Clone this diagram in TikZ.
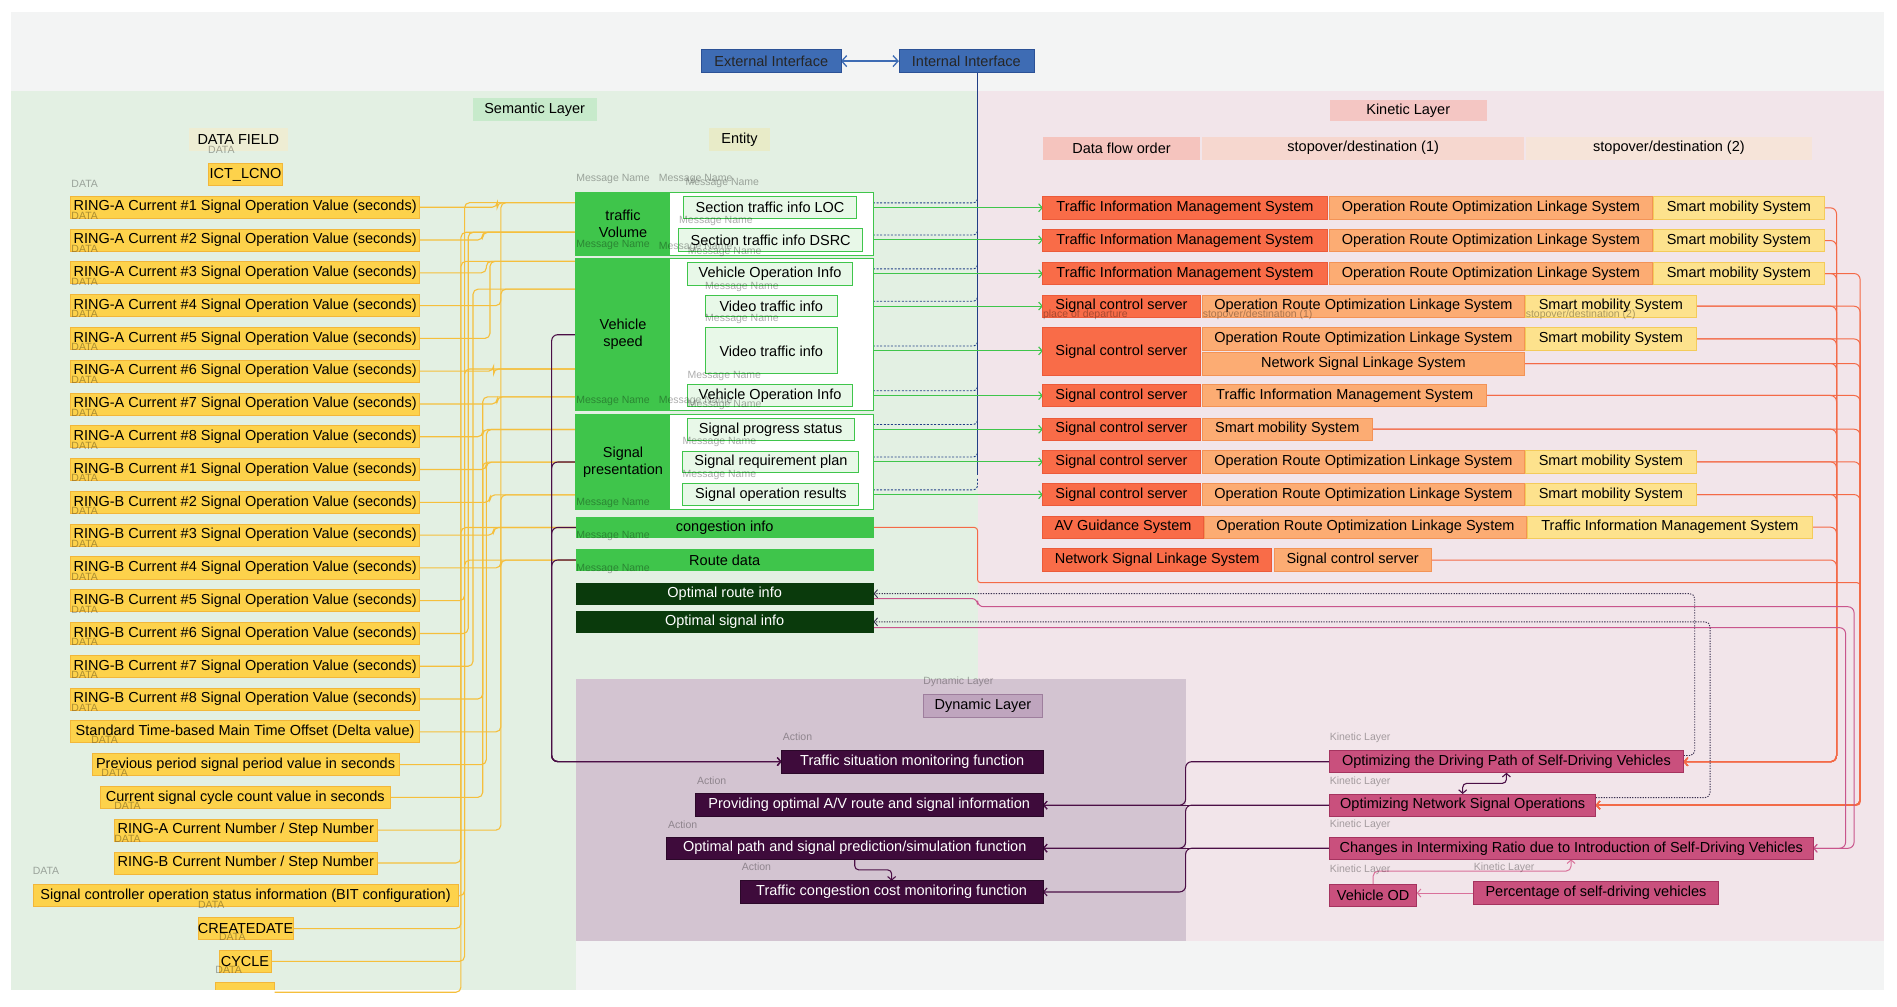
\documentclass[tikz,border=0pt]{standalone}
\usepackage{fontspec}
\setmainfont{Liberation Sans}
\usetikzlibrary{arrows.meta,calc}
\pgfdeclarelayer{back}
\pgfdeclarelayer{lines}
\pgfsetlayers{back,lines,main}
\newcommand\myfs{\fontsize{14.5}{17}\selectfont}
\newcommand\mysmall{\fontsize{10.5}{12}\selectfont}
\newcommand\mkbox[7]{\node[bx,#2,minimum width={((#5)-(#3))*1.2098pt},minimum height={((#6)-(#4))*1.2098pt}] (#1) at ({((#3)+(#5))/2},{((#4)+(#6))/2}) {#7};}
\newcommand\yrow[5]{\mkbox{#1}{ybox}{#2}{#4-9.1}{#3}{#4+9.1}{#5}}
\definecolor{cBgGray}{HTML}{F3F4F4}
\definecolor{cBgGreen}{HTML}{E3F0E3}
\definecolor{cBgPink}{HTML}{F2E5EA}
\definecolor{cBgDyn}{HTML}{D3C4D1}
\definecolor{cY}{HTML}{FDD24B}
\definecolor{cYd}{HTML}{F2B73A}
\definecolor{cYl}{HTML}{F5BF3C}
\definecolor{cG}{HTML}{3FC54B}
\definecolor{cMsg}{HTML}{E8F8E8}
\definecolor{cDG}{HTML}{0A3A0C}
\definecolor{cIf}{HTML}{3E6CB4}
\definecolor{cIfd}{HTML}{2B5196}
\definecolor{cBlue}{HTML}{213E86}
\definecolor{cK1}{HTML}{F96C48}
\definecolor{cK1d}{HTML}{EC5A3A}
\definecolor{cK2}{HTML}{FCAC73}
\definecolor{cK2d}{HTML}{F39356}
\definecolor{cK3}{HTML}{FDE28D}
\definecolor{cK3d}{HTML}{F4CB5A}
\definecolor{cKh1}{HTML}{F5C4BE}
\definecolor{cKh2}{HTML}{F6D7CF}
\definecolor{cKh3}{HTML}{F6E4D9}
\definecolor{cKl}{HTML}{F4C6C3}
\definecolor{cSem}{HTML}{C7EACB}
\definecolor{cDf}{HTML}{EEEDD3}
\definecolor{cEnt}{HTML}{E8EBC8}
\definecolor{cDyn}{HTML}{3E0B3B}
\definecolor{cDynL}{HTML}{BFA5BE}
\definecolor{cDynLd}{HTML}{9E7E9D}
\definecolor{cPk}{HTML}{C9507D}
\definecolor{cPkd}{HTML}{A5335F}
\definecolor{cPl}{HTML}{4B0F46}
\definecolor{cOr}{HTML}{F46A47}
\definecolor{cMg}{HTML}{C9558C}
\definecolor{cDot}{HTML}{3A3050}
\definecolor{cPkl}{HTML}{D9709A}
\begin{document}
\begin{tikzpicture}[x=1.2098pt,y=-1.2098pt,
 bx/.style={inner sep=0pt,outer sep=0pt,font=\myfs,anchor=center},
 ybox/.style={fill=cY,draw=cYd,line width=0.8pt},
 ifbox/.style={fill=cIf,draw=cIfd,line width=0.6pt,text=black!85},
 semlbl/.style={fill=cSem},
 kinlbl/.style={fill=cKl},
 dflbl/.style={fill=cDf},
 entlbl/.style={fill=cEnt},
 kh1/.style={fill=cKh1}, kh2/.style={fill=cKh2}, kh3/.style={fill=cKh3},
 grp/.style={fill=white,draw=cG,line width=1pt},
 grpl/.style={fill=cG,align=center},
 msg/.style={fill=cMsg,draw=cG,line width=1pt},
 gfull/.style={fill=cG},
 dgfull/.style={fill=cDG,text=white},
 ka/.style={fill=cK1,draw=cK1d,line width=0.8pt},
 kb/.style={fill=cK2,draw=cK2d,line width=0.8pt},
 kc/.style={fill=cK3,draw=cK3d,line width=0.8pt},
 dyn/.style={fill=cDyn,draw=cDyn!70!black,line width=0.6pt,text=white},
 dynl/.style={fill=cDynL,draw=cDynLd,line width=0.8pt},
 pk/.style={fill=cPk,draw=cPkd,line width=1pt},
 lbl/.style={inner sep=0pt,font=\mysmall,text=black,text opacity=0.32},
 arr/.style={-{Straight Barb[length=3.5pt,width=8pt]}},
 yline/.style={draw=cYl,line width=1.1pt,rounded corners=5pt},
 garr/.style={draw=cG,line width=1.1pt,arr},
 bdash/.style={draw=cBlue,line width=0.9pt,dash pattern=on 2pt off 1.6pt,rounded corners=4pt,arr},
 oline/.style={draw=cOr,line width=1pt,rounded corners=6pt,arr},
 mline/.style={draw=cMg,line width=1pt,rounded corners=6pt,arr},
 dline/.style={draw=cDot,line width=0.9pt,dash pattern=on 1.3pt off 1.3pt,rounded corners=5pt,arr},
 pline/.style={draw=cPl,line width=1.1pt,rounded corners=6pt},
 pkline/.style={draw=cPkl,line width=1pt,arr}
]
\useasboundingbox (0,0) rectangle (1568,832);
\begin{pgfonlayer}{back}
\fill[white] (0,0) rectangle (1568,832);
\fill[cBgGray] (9,10) rectangle (1557,818);
\fill[cBgGreen] (9,75) rectangle (808,561);
\fill[cBgGreen] (9,561) rectangle (476,818);
\fill[cBgPink] (808,75) rectangle (1557,778);
\fill[cBgDyn] (476,561) rectangle (980,778);
\end{pgfonlayer}

% headers
\mkbox{ext}{ifbox}{580}{41}{695}{60}{External Interface}
\mkbox{int}{ifbox}{743}{41}{854.5}{60}{Internal Interface}
\mkbox{sem}{semlbl}{390.7}{81.3}{493.2}{100}{Semantic Layer}
\mkbox{kin}{kinlbl}{1099}{82.7}{1229}{100}{Kinetic Layer}
\mkbox{df}{dflbl}{156}{106}{238}{125}{DATA FIELD}
\mkbox{ent}{entlbl}{586}{106}{636.5}{124.6}{Entity}
\mkbox{ictl}{ybox}{172.4}{135}{233.4}{153.5}{ICT\_LCNO}
\mkbox{h1}{kh1}{862}{113}{992}{132}{Data flow order}
\mkbox{h2}{kh2}{993.5}{113}{1260}{132}{stopover/destination (1)}
\mkbox{h3}{kh3}{1261}{113}{1498}{132}{stopover/destination (2)}

% data field rows
\yrow{yA1}{58.4}{346.8}{171.3}{RING-A Current \#1 Signal Operation Value (seconds)}
\yrow{yA2}{58.4}{346.8}{198.4}{RING-A Current \#2 Signal Operation Value (seconds)}
\yrow{yA3}{58.4}{346.8}{225.5}{RING-A Current \#3 Signal Operation Value (seconds)}
\yrow{yA4}{58.4}{346.8}{252.6}{RING-A Current \#4 Signal Operation Value (seconds)}
\yrow{yA5}{58.4}{346.8}{279.7}{RING-A Current \#5 Signal Operation Value (seconds)}
\yrow{yA6}{58.4}{346.8}{306.8}{RING-A Current \#6 Signal Operation Value (seconds)}
\yrow{yA7}{58.4}{346.8}{333.9}{RING-A Current \#7 Signal Operation Value (seconds)}
\yrow{yA8}{58.4}{346.8}{361.0}{RING-A Current \#8 Signal Operation Value (seconds)}
\yrow{yB1}{58.4}{346.8}{388.1}{RING-B Current \#1 Signal Operation Value (seconds)}
\yrow{yB2}{58.4}{346.8}{415.2}{RING-B Current \#2 Signal Operation Value (seconds)}
\yrow{yB3}{58.4}{346.8}{442.3}{RING-B Current \#3 Signal Operation Value (seconds)}
\yrow{yB4}{58.4}{346.8}{469.4}{RING-B Current \#4 Signal Operation Value (seconds)}
\yrow{yB5}{58.4}{346.8}{496.5}{RING-B Current \#5 Signal Operation Value (seconds)}
\yrow{yB6}{58.4}{346.8}{523.6}{RING-B Current \#6 Signal Operation Value (seconds)}
\yrow{yB7}{58.4}{346.8}{550.7}{RING-B Current \#7 Signal Operation Value (seconds)}
\yrow{yB8}{58.4}{346.8}{577.8}{RING-B Current \#8 Signal Operation Value (seconds)}
\yrow{yStd}{58.4}{346.8}{604.9}{Standard Time-based Main Time Offset (Delta value)}
\yrow{yPrev}{76}{330}{632.0}{Previous period signal period value in seconds}
\yrow{yCur}{83}{322.5}{659.1}{Current signal cycle count value in seconds}
\yrow{yRA}{94.5}{311.8}{686.2}{RING-A Current Number / Step Number}
\yrow{yRB}{94.5}{311.8}{713.3}{RING-B Current Number / Step Number}
\yrow{ySC}{27.3}{378.6}{740.4}{Signal controller operation status information (BIT configuration)}
\yrow{yCD}{164}{242}{767.5}{CREATEDATE}
\yrow{yCY}{181}{224}{794.6}{CYCLE}
\begin{scope}
\clip (0,0) rectangle (1568,818);
\mkbox{yCut}{ybox}{178}{812.3}{227}{828}{}
\end{scope}

% entity groups
\mkbox{gTV}{grp}{476}{159}{722}{211}{}
\mkbox{gTVl}{grpl}{476}{159}{554}{211}{traffic\\Volume}
\mkbox{gVS}{grp}{476}{213.8}{722}{339.5}{}
\mkbox{gVSl}{grpl}{476}{213.8}{554}{339.5}{Vehicle\\speed}
\mkbox{gSP}{grp}{476}{342.8}{722}{421}{}
\mkbox{gSPl}{grpl}{476}{342.8}{554}{421}{Signal\\presentation}
\mkbox{loc}{msg}{565}{162.6}{708}{180.8}{Section traffic info LOC}
\mkbox{dsrc}{msg}{561}{189}{713}{207.5}{Section traffic info DSRC}
\mkbox{voi1}{msg}{568}{217}{705}{235.6}{Vehicle Operation Info}
\mkbox{vti1}{msg}{583}{244}{692}{262}{Video traffic info}
\mkbox{vti2}{msg}{583}{271}{692}{309}{Video traffic info}
\mkbox{voi2}{msg}{568}{318}{705}{336}{Vehicle Operation Info}
\mkbox{sps}{msg}{568}{346}{706}{363.7}{Signal progress status}
\mkbox{srp}{msg}{564.5}{372.8}{710}{390.7}{Signal requirement plan}
\mkbox{sor}{msg}{564.5}{399.8}{710}{418}{Signal operation results}
\mkbox{cong}{gfull}{476}{427}{722}{445}{congestion info}
\mkbox{route}{gfull}{476}{453.8}{722}{472}{Route data}
\mkbox{oroute}{dgfull}{476}{481.6}{722}{499.8}{Optimal route info}
\mkbox{osig}{dgfull}{476}{505}{722}{523}{Optimal signal info}

% kinetic rows
\mkbox{k1a}{ka}{862}{162.6}{1097}{181}{Traffic Information Management System}
\mkbox{k1b}{kb}{1099}{162.6}{1365.6}{181}{Operation Route Optimization Linkage System}
\mkbox{k1c}{kc}{1367}{162.6}{1507.6}{181}{Smart mobility System}
\mkbox{k2a}{ka}{862}{189.6}{1097}{208}{Traffic Information Management System}
\mkbox{k2b}{kb}{1099}{189.6}{1365.6}{208}{Operation Route Optimization Linkage System}
\mkbox{k2c}{kc}{1367}{189.6}{1507.6}{208}{Smart mobility System}
\mkbox{k3a}{ka}{862}{216.8}{1097}{235.4}{Traffic Information Management System}
\mkbox{k3b}{kb}{1099}{216.8}{1365.6}{235.4}{Operation Route Optimization Linkage System}
\mkbox{k3c}{kc}{1367}{216.8}{1507.6}{235.4}{Smart mobility System}
\mkbox{k4a}{ka}{862}{243.8}{992}{262.4}{Signal control server}
\mkbox{k4b}{kb}{994}{243.8}{1260}{262.4}{Operation Route Optimization Linkage System}
\mkbox{k4c}{kc}{1261}{243.8}{1402}{262.4}{Smart mobility System}
\mkbox{k5a}{ka}{862}{271}{992}{310}{Signal control server}
\mkbox{k5b}{kb}{994}{271}{1260}{289.3}{Operation Route Optimization Linkage System}
\mkbox{k5c}{kc}{1261}{271}{1402}{289.3}{Smart mobility System}
\mkbox{k5d}{kb}{994}{291}{1260}{310}{Network Signal Linkage System}
\mkbox{k6a}{ka}{862}{317.6}{992}{336.2}{Signal control server}
\mkbox{k6b}{kb}{994}{317.6}{1229}{336.2}{Traffic Information Management System}
\mkbox{k7a}{ka}{862}{345.5}{992}{364}{Signal control server}
\mkbox{k7b}{kb}{994}{345.5}{1134}{364}{Smart mobility System}
\mkbox{k8a}{ka}{862}{372.5}{992}{391}{Signal control server}
\mkbox{k8b}{kb}{994}{372.5}{1260}{391}{Operation Route Optimization Linkage System}
\mkbox{k8c}{kc}{1261}{372.5}{1402}{391}{Smart mobility System}
\mkbox{k9a}{ka}{862}{399.6}{992}{418}{Signal control server}
\mkbox{k9b}{kb}{994}{399.6}{1260}{418}{Operation Route Optimization Linkage System}
\mkbox{k9c}{kc}{1261}{399.6}{1402}{418}{Smart mobility System}
\mkbox{k10a}{ka}{862}{426.5}{994.6}{445}{AV Guidance System}
\mkbox{k10b}{kb}{995.6}{426.5}{1261.5}{445}{Operation Route Optimization Linkage System}
\mkbox{k10c}{kc}{1262.6}{426.5}{1498}{445}{Traffic Information Management System}
\mkbox{k11a}{ka}{862}{453.6}{1051}{472.2}{Network Signal Linkage System}
\mkbox{k11b}{kb}{1053}{453.6}{1183}{472.2}{Signal control server}

% dynamic layer
\mkbox{dlab}{dynl}{763}{574}{862}{593}{Dynamic Layer}
\mkbox{tsm}{dyn}{646}{620}{862}{639}{Traffic situation monitoring function}
\mkbox{pav}{dyn}{575}{656}{862}{675}{Providing optimal A/V route and signal information}
\mkbox{ops}{dyn}{551}{692}{862}{710}{Optimal path and signal prediction/simulation function}
\mkbox{tcc}{dyn}{612}{728}{862}{746.5}{Traffic congestion cost monitoring function}

% kinetic bottom
\mkbox{odp}{pk}{1098.7}{620.5}{1391.6}{638.7}{Optimizing the Driving Path of Self-Driving Vehicles}
\mkbox{onso}{pk}{1099}{656.3}{1319}{674.7}{Optimizing Network Signal Operations}
\mkbox{cir}{pk}{1099}{692}{1498.6}{710.3}{Changes in Intermixing Ratio due to Introduction of Self-Driving Vehicles}
\mkbox{vod}{pk}{1099}{730.7}{1171}{749.5}{Vehicle OD}
\mkbox{pct}{pk}{1217.6}{728.8}{1420.7}{747.5}{Percentage of self-driving vehicles}

% ---------------- connectors ----------------
\begin{pgfonlayer}{lines}
\draw[cIf,line width=1.3pt,{Straight Barb[length=5pt,width=11pt]}-{Straight Barb[length=5pt,width=11pt]}] (ext.east) -- (int.west);
\coordinate (bb) at (808,393);
\draw[cBlue,line width=1pt] (int.south -| bb) -- (bb);
\foreach \m in {loc,dsrc,voi1,vti1,vti2,voi2,sps,srp,sor}
  \draw[bdash] ($(bb |- \m.east)+(0,-13)$) |- ($(\m.east)+(0,-4)$);
\foreach \m/\k in {loc/k1a,dsrc/k2a,voi1/k3a,vti1/k4a,vti2/k5a,voi2/k6a,sps/k7a,srp/k8a,sor/k9a}
  \draw[garr] (\m.east) -- (\k.west |- \m.east);

% yellow bundle
\foreach \sa/\bu/\ty/\tg in {yA1/411/167.5/gTV, yA2/399/192/gTV, yA3/402/216/gVS, yA4/414/239/gVS,
  yA5/405/216/gVS, yA6/408/305/gVS, yA7/411/328/gVS, yA8/399/355/gSP, yB1/402/382/gSP,
  yB2/405/409/gSP, yB3/408/436/cong, yB4/414/463/route, yB5/384/167.5/gTV, yB6/387/192/gTV,
  yB7/391/239/gVS, yB8/399/328/gVS, yStd/414/167.5/gTV, yPrev/402/355/gSP, yCur/399/382/gSP,
  yRA/414/409/gSP, yRB/381/216/gVS, ySC/384/305/gVS, yCD/381/436/cong, yCY/384/463/route,
  yCut/381/192/gTV}
  \draw[yline] (\sa.east) -| (\bu,\ty) -- (\tg.west |- 0,\ty);

% purple from entities to monitoring
\foreach \g in {gVS,gSP,cong,route}
  \draw[pline,arr] (\g.west) -| (456,600) |- (tsm.west);

% orange kinetic lines
\foreach \k in {k1c,k2c,k3c,k4c,k5c,k5d,k6b,k7b,k8c,k9c,k10c,k11b}
  \draw[oline] (\k.east) -| (1518,600) |- (odp.east);
\foreach \k in {k3c,k4c,k5c,k5d,k6b,k7b,k8c,k9c}
  \draw[oline] (\k.east) -| (1537.5,600) |- (onso.east);
\draw[oline,rounded corners=3pt] (cong.east) -| (808,470) |- (1537.5,481.6) |- (onso.east);

% magenta
\draw[mline] ($(oroute.east)+(0,4)$) -- (808,494.7) -- (808,501.5) -| (1532.5,600) |- (cir.east);
\draw[mline] ($(osig.east)+(0,4.8)$) -| (1525.5,600) |- (cir.east);

% dotted
\draw[dline] ($(odp.north east)+(0,4)$) -| (1400.8,560) |- (oroute.east);
\draw[dline] ($(onso.north east)+(0,3)$) -| (1413.5,560) |- (osig.east);

% kinetic -> dynamic
\draw[pline,arr] (odp.west) -| (980,650) |- (pav.east);
\draw[pline,arr] (onso.west) -- (pav.east |- onso.west);
\draw[pline,arr] (onso.west) -| (980,690) |- (ops.east);
\draw[pline,arr] (cir.west) -- (ops.east |- cir.west);
\draw[pline,arr] (cir.west) -| (980,725) |- (tcc.east);
\draw[pline,arr,rounded corners=4pt] (ops.south) |- ($(ops.south)!0.5!(tcc.north)$) -| (tcc.north);
\draw[pline,{Straight Barb[length=3.5pt,width=8pt]}-{Straight Barb[length=3.5pt,width=8pt]},rounded corners=4pt] (odp.south) |- ($(odp.south)!0.5!(onso.north)$) -| (onso.north);

% pink
\draw[pkline] (pct.west) -- (vod.east |- pct.west);
\draw[pkline,rounded corners=5pt] (vod.north) |- (1298.6,720) -- (cir.south -| 1298.6,0);
\end{pgfonlayer}

% ---------------- faint labels ----------------
\node[lbl] (dd0) at (183,124) {DATA};
\node[lbl] (dd1) at (70,152) {DATA};
\foreach \n/\c in {1/171.3,2/198.4,3/225.5,4/252.6,5/279.7,6/306.8,7/333.9,8/361.0,9/388.1,10/415.2,11/442.3,12/469.4,13/496.5,14/523.6,15/550.7,16/577.8}
  \node[lbl] (dr\n) at (70,\c+7.2) {DATA};
\node[lbl] (dStd) at (86.4,611.7) {DATA};
\node[lbl] (dPrev) at (94.8,638.7) {DATA};
\node[lbl] (dCur) at (105.4,666) {DATA};
\node[lbl] (dRA) at (105.4,693.5) {DATA};
\node[lbl] (dRB) at (38,719.5) {DATA};
\node[lbl] (dSC) at (174.6,748) {DATA};
\node[lbl] (dCD) at (192,774.8) {DATA};
\node[lbl] (dCY) at (189,801.8) {DATA};

\foreach \n/\x/\y in {1/506.7/148.2,2/575/148.2,3/597/151.5,4/591.8/182.5,5/506.7/202.5,6/575/204.5,
  7/599/208,8/613.3/237,9/613.3/264,10/598.7/311,11/506.7/331.6,12/575/331.6,13/599/334.9,
  14/594.6/365.5,15/594.6/392.5,16/506.7/416,17/506.7/442.7,18/506.7/470}
  \node[lbl] (mn\n) at (\x,\y) {Message Name};

\node[lbl,anchor=west] (ac1) at (647,609) {Action};
\node[lbl,anchor=west] (ac2) at (576,645) {Action};
\node[lbl,anchor=west] (ac3) at (552,682) {Action};
\node[lbl,anchor=west] (ac4) at (613,716.7) {Action};
\node[lbl,anchor=west] (dyl) at (763,563.5) {Dynamic Layer};
\node[lbl,anchor=west] (kl1) at (1099,610) {Kinetic Layer};
\node[lbl,anchor=west] (kl2) at (1099,646) {Kinetic Layer};
\node[lbl,anchor=west] (kl3) at (1099,682) {Kinetic Layer};
\node[lbl,anchor=west] (kl4) at (1099,719) {Kinetic Layer};
\node[lbl,anchor=west] (kl5) at (1218,717) {Kinetic Layer};
\node[lbl,anchor=west] (pd1) at (862,260) {place of departure};
\node[lbl,anchor=west] (pd2) at (994,260) {stopover/destination (1)};
\node[lbl,anchor=west] (pd3) at (1261,260) {stopover/destination (2)};
\end{tikzpicture}
\end{document}
